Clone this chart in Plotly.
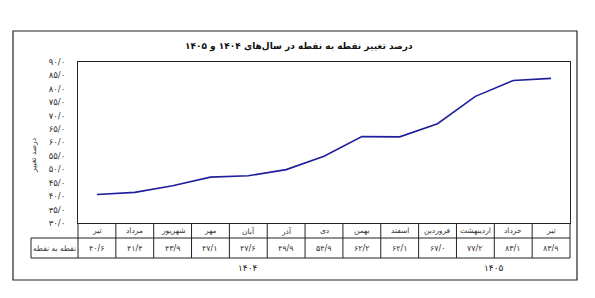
import plotly.graph_objects as go

months = ["تیر", "مرداد", "شهریور", "مهر", "آبان", "آذر", "دی", "بهمن", "اسفند",
          "فروردین", "اردیبهشت", "خرداد", "تیر"]
values = [40.6, 41.4, 43.9, 47.1, 47.6, 49.9, 54.9, 62.2, 62.1, 67.0, 77.2, 83.1, 83.9]
years = ["۱۴۰۴", "۱۴۰۵"]
year_index = [0, 0, 0, 0, 0, 0, 0, 0, 0, 1, 1, 1, 1]
row_label = "نقطه به نقطه"
title = "درصد تغییر نقطه به نقطه در سال‌های ۱۴۰۴ و ۱۴۰۵"
y_title = "درصد تغییر"
y_ticks = [30, 35, 40, 45, 50, 55, 60, 65, 70, 75, 80, 85, 90]

FA = str.maketrans("0123456789.", "۰۱۲۳۴۵۶۷۸۹/")


def fa(v):
    return f"{v:.1f}".translate(FA)


FONT = "DejaVu Sans"
n = len(months)
xs = list(range(n))

W, H = 595, 298
ml, mr, mt, mb = 78, 25, 62, 75
pw, ph = W - ml - mr, H - mt - mb


def px_x(p):  # pixel -> paper x
    return (p - ml) / pw


def px_y(p):  # pixel -> paper y
    return (H - mb - p) / ph


def cat_x(i):  # category edge/center -> paper x
    return (i + 0.5) / n


fig = go.Figure()
fig.add_trace(go.Scatter(x=xs, y=values, mode="lines",
                         line=dict(color="#1f1f9e", width=1.6),
                         hoverinfo="skip", showlegend=False))

shapes = []
line = dict(color="#222", width=1)
r1_top, r1_bot, r2_bot = px_y(223), px_y(238), px_y(258)
lab_left = px_x(31)
shapes.append(dict(type="line", xref="paper", yref="paper", x0=lab_left, x1=1,
                   y0=r1_bot, y1=r1_bot, line=line))
shapes.append(dict(type="line", xref="paper", yref="paper", x0=lab_left, x1=1,
                   y0=r2_bot, y1=r2_bot, line=line))
shapes.append(dict(type="line", xref="paper", yref="paper", x0=lab_left, x1=lab_left,
                   y0=r1_bot, y1=r2_bot, line=line))
for i in range(n + 1):
    xe = cat_x(i - 0.5)
    shapes.append(dict(type="line", xref="paper", yref="paper", x0=xe, x1=xe,
                       y0=r1_top, y1=r2_bot, line=line))
shapes.append(dict(type="rect", xref="paper", yref="paper",
                   x0=px_x(13), x1=px_x(577), y0=px_y(280), y1=px_y(31),
                   line=dict(color="#222", width=1.2)))


def note(x, y, text, size=8, color="#333", **kw):
    d = dict(x=x, y=y, xref="paper", yref="paper", text=text, showarrow=False,
             xanchor="center", yanchor="middle",
             font=dict(family=FONT, size=size, color=color))
    d.update(kw)
    return d


ann = []
for i, (m, v) in enumerate(zip(months, values)):
    ann.append(note(cat_x(i), (r1_top + r1_bot) / 2, m, size=7.5))
    ann.append(note(cat_x(i), (r1_bot + r2_bot) / 2, fa(v), size=8))
ann.append(note(lab_left / 2, (r1_bot + r2_bot) / 2, row_label, size=7.5))
for k, yname in enumerate(years):
    idx = [i for i, yi in enumerate(year_index) if yi == k]
    c = (min(idx) + max(idx)) / 2
    ann.append(note(cat_x(c), px_y(268), yname, size=9, color="#222"))
ann.append(note(0.45, px_y(46), "<b>" + title + "</b>", size=9, color="#111"))
ann.append(note(px_x(33), px_y(156), y_title, size=7.5, textangle=-90))

fig.update_layout(
    width=W, height=H,
    margin=dict(l=ml, r=mr, t=mt, b=mb),
    paper_bgcolor="white", plot_bgcolor="white",
    shapes=shapes, annotations=ann,
    xaxis=dict(range=[-0.5, n - 0.5], showticklabels=False, ticks="", showgrid=False,
               zeroline=False, showline=True, linecolor="#222", linewidth=1, mirror=True),
    yaxis=dict(range=[30, 90], tickvals=y_ticks, ticktext=[fa(t) for t in y_ticks],
               ticks="", showgrid=False, zeroline=False, showline=True, linecolor="#222",
               linewidth=1, mirror=True, ticklabelstandoff=10,
               tickfont=dict(family=FONT, size=8.5, color="#333")),
)

fig.write_html("out.html")
